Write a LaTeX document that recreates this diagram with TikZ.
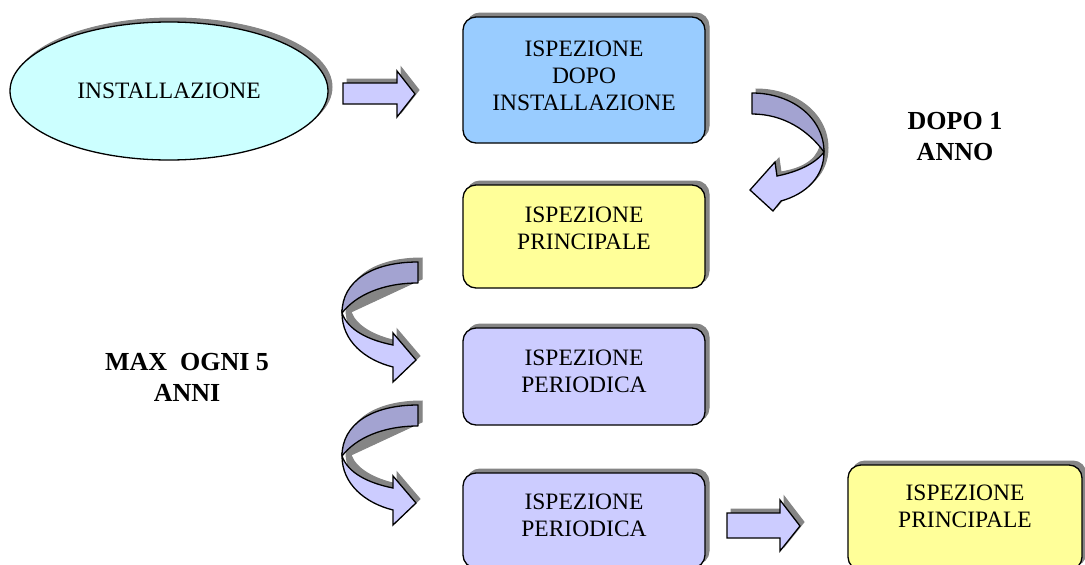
\documentclass[tikz,border=0pt]{standalone}
\usepackage{fontspec}
\setmainfont{Liberation Serif}
\usetikzlibrary{shapes.geometric}
\definecolor{cyanfill}{HTML}{CCFFFF}
\definecolor{bluefill}{HTML}{99CCFF}
\definecolor{yellowfill}{HTML}{FFFF99}
\definecolor{lilac}{HTML}{CCCCFF}
\definecolor{lilacdark}{HTML}{A3A3D1}
\definecolor{shadowgray}{HTML}{858585}
\begin{document}
\begin{tikzpicture}[x=1pt,y=-1pt,
  shadowed/.style={preaction={fill=shadowgray, draw=shadowgray, line width=1pt, transform canvas={shift={(4pt,4pt)}}}},
  box/.style={shadowed, draw=black, line width=1.3pt, rounded corners=13pt, minimum width=242pt, inner sep=0pt},
  boxtext/.style={align=center, font=\fontsize{23.5}{27}\selectfont, inner sep=0pt},
  boldlabel/.style={align=center, font=\fontsize{26}{31}\selectfont\bfseries, inner sep=0pt},
  blockarrow/.style={shadowed, fill=lilac, draw=black, line width=1.3pt, line join=miter},
  backband/.style={fill=lilacdark, draw=black, line width=1.3pt, line join=round},
  frontband/.style={fill=lilac, draw=black, line width=1.3pt, line join=miter},
  shadowband/.style={fill=shadowgray, draw=shadowgray, line width=1pt, transform canvas={shift={(4pt,4pt)}}}
]
\useasboundingbox (0,0) rectangle (1085,565);
\clip (0,0) rectangle (1085,565);

% ellipse
\node[ellipse, shadowed, fill=cyanfill, draw=black, line width=1.3pt, minimum width=318pt, minimum height=138pt, inner sep=0pt] (inst) at (169,91) {};
\node[boxtext] (instt) at (169,91) {INSTALLAZIONE};

% boxes
\node[box, fill=bluefill, minimum height=126pt] (b1) at (584,80) {};
\node[boxtext] (b1t) at (584,75.5) {ISPEZIONE\\DOPO\\INSTALLAZIONE};

\node[box, fill=yellowfill, minimum height=103pt] (b2) at (584,236.5) {};
\node[boxtext] (b2t) at (584,228.5) {ISPEZIONE\\PRINCIPALE};

\node[box, fill=lilac, minimum height=97pt] (b3) at (584,376.5) {};
\node[boxtext] (b3t) at (584,371) {ISPEZIONE\\PERIODICA};

\node[box, fill=lilac, minimum height=95pt] (b4) at (584,520.5) {};
\node[boxtext] (b4t) at (584,515) {ISPEZIONE\\PERIODICA};

\node[box, fill=yellowfill, minimum width=234pt, minimum height=105pt] (b5) at (965,517.5) {};
\node[boxtext] (b5t) at (965,506.5) {ISPEZIONE\\PRINCIPALE};

% bold labels
\node[boldlabel] (l1) at (955,137) {DOPO 1\\ANNO};
\node[boldlabel] (l2) at (187,377) {MAX\ \ OGNI 5\\ANNI};

% straight block arrows
\draw[blockarrow] (343,83) -- (397,83) -- (397,71) -- (415,94) -- (397,117) -- (397,104) -- (343,104) -- cycle;
\draw[blockarrow] (727,513) -- (780,513) -- (780,500) -- (800,526) -- (780,551) -- (780,538) -- (727,538) -- cycle;

% curved arrow A (right of box 1, pointing down-left)
\begin{scope}
\fill[shadowband] (752,93) .. controls (792,93) and (824,118) .. (824,152)
   .. controls (824,177) and (806,194) .. (781,201) -- (773,211) -- (750,190) -- (775,162) -- (777,176)
   .. controls (795,173) and (812,166) .. (816,150) .. controls (806,128) and (783,114) .. (752,114) -- cycle;
\draw[backband] (752,93) .. controls (792,93) and (824,118) .. (824,152)
   .. controls (808,130) and (783,114) .. (752,114) -- cycle;
\draw[frontband] (824,152) .. controls (824,177) and (806,194) .. (781,201) -- (773,211) -- (750,190) -- (775,162) -- (777,176)
   .. controls (797,172) and (815,164) .. (824,152) -- cycle;
\end{scope}

% curved arrows B and C (left of boxes 3 and 4, pointing right-down)
\foreach \dy in {0,143} {
\begin{scope}[yshift=-\dy pt]
\fill[shadowband] (418,262) .. controls (372,262) and (342,281) .. (342,313)
   .. controls (342,341) and (365,360) .. (393,367) -- (393,382) -- (416,360) -- (393,333) -- (393,345)
   .. controls (370,340) and (352,330) .. (347,316) -- (418,283) -- cycle;
\draw[backband] (418,262) .. controls (372,262) and (342,281) .. (342,313)
   .. controls (356,295) and (383,283) .. (418,283) -- cycle;
\draw[frontband] (342,313) .. controls (342,341) and (365,360) .. (393,367) -- (393,382) -- (416,360) -- (393,333) -- (393,345)
   .. controls (368,340) and (348,330) .. (342,313) -- cycle;
\end{scope}
}
\end{tikzpicture}
\end{document}
